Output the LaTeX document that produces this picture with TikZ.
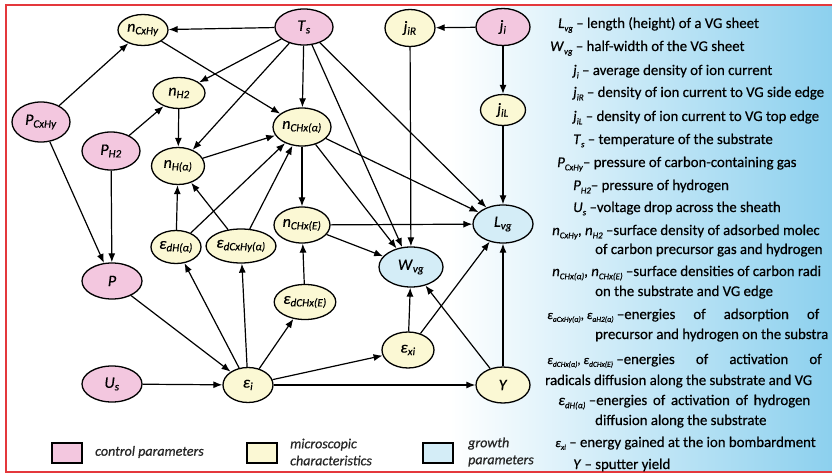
\documentclass[tikz,border=0pt]{standalone}
\usepackage{fontspec}
\setmainfont{Carlito}[FakeBold=0.5]
\usetikzlibrary{arrows.meta,shapes.geometric}

\definecolor{ctrlpink}{RGB}{243,199,223}
\definecolor{micyellow}{RGB}{251,248,212}
\definecolor{growblue}{RGB}{212,237,247}
\definecolor{framered}{RGB}{228,56,60}
\definecolor{bgblue}{RGB}{140,208,238}

\newcommand{\sym}[2]{\textit{#1}\textsubscript{\textit{#2}}}
\newcommand{\lsym}[2]{\textit{#1}\raisebox{-0.22em}{\scalebox{0.6}{\textit{#2}}}}
\newcommand{\smallsyms}[1]{{\fontsize{12.5}{14}\selectfont #1}}

\tikzset{
  var/.style={ellipse, draw, line width=1.3pt, inner sep=0pt, font=\fontsize{16}{18}\selectfont},
  ctrl/.style={var, fill=ctrlpink},
  micro/.style={var, fill=micyellow},
  growth/.style={var, fill=growblue},
  link/.style={-{Latex[length=9pt,width=7pt]}, line width=1.2pt},
  legline/.style={anchor=base west, inner sep=0pt, font=\fontsize{14.8}{17}\selectfont},
  keybox/.style={draw, line width=1.3pt, minimum width=30pt, minimum height=20pt, inner sep=0pt},
  keytext/.style={anchor=west, align=left, inner sep=0pt, text=black!85, font=\itshape\fontsize{14}{17}\selectfont}
}

\begin{document}
\begin{tikzpicture}[x=1pt, y=-1pt]
\useasboundingbox (0,0) rectangle (832,476);
\fill[white] (0,0) rectangle (832,476);
\shade[left color=white, right color=bgblue] (450,5) rectangle (832,472);
\draw[framered, line width=2pt] (832,5) -- (6,5) -- (6,472) -- (832,472);

% control parameters
\node[ctrl, minimum width=58pt, minimum height=40pt] (PCxHy) at (41,122) {\sym{P}{CxHy}};
\node[ctrl, minimum width=58pt, minimum height=38pt] (PH2) at (111,151) {\sym{P}{H2}};
\node[ctrl, minimum width=60pt, minimum height=36pt] (P) at (112,281) {\textit{P}};
\node[ctrl, minimum width=60pt, minimum height=36pt] (Us) at (112,384) {\sym{U}{s}};
\node[ctrl, minimum width=58pt, minimum height=36pt] (Ts) at (304,27) {\sym{T}{s}};
\node[ctrl, minimum width=54pt, minimum height=37pt] (ji) at (503,27) {\sym{j}{i}};

% microscopic characteristics
\node[micro, minimum width=50pt, minimum height=31pt] (nCxHy) at (143,30) {\sym{n}{CxHy}};
\node[micro, minimum width=50pt, minimum height=37pt] (jiR) at (410,28) {\sym{j}{iR}};
\node[micro, minimum width=45pt, minimum height=31pt] (jiL) at (503,110) {\sym{j}{iL}};
\node[micro, minimum width=52pt, minimum height=31pt] (nH2) at (179,93) {\sym{n}{H2}};
\node[micro, minimum width=53pt, minimum height=37pt] (nHa) at (178,166) {\sym{n}{H(α)}};
\node[micro, minimum width=58pt, minimum height=38pt] (nCHa) at (302,127) {\sym{n}{CHx(α)}};
\node[micro, minimum width=56pt, minimum height=36pt] (nCHE) at (302,225) {\sym{n}{CHx(E)}};
\node[micro, minimum width=50pt, minimum height=33pt] (edHa) at (176,247) {\sym{ε}{dH(α)}};
\node[micro, minimum width=57pt, minimum height=34pt] (edCxHya) at (241,246) {\sym{ε}{dCxHy(α)}};
\node[micro, minimum width=50pt, minimum height=35pt] (edCHE) at (305,302) {\sym{ε}{dCHx(E)}};
\node[micro, minimum width=50pt, minimum height=35pt] (ei) at (248,385) {\sym{ε}{i}};
\node[micro, minimum width=52pt, minimum height=36pt] (exi) at (408,350) {\sym{ε}{xi}};
\node[micro, minimum width=54pt, minimum height=36pt] (Y) at (503,385) {\textit{Y}};

% growth parameters
\node[growth, minimum width=60pt, minimum height=38pt] (Lvg) at (503,224) {\sym{L}{vg}};
\node[growth, minimum width=64pt, minimum height=40pt] (Wvg) at (411,267) {\sym{W}{vg}};

\draw[link] (Ts) -- (nCxHy);
\draw[link] (Ts) -- (nH2);
\draw[link] (Ts) -- (nHa);
\draw[link] (Ts) -- (nCHa);
\draw[link] (Ts) -- (Wvg);
\draw[link] (Ts) -- (Lvg);
\draw[link] (ji) -- (jiR);
\draw[link] (ji) -- (jiL);
\draw[link] (jiL) -- (Lvg);
\draw[link] (jiR) -- (Wvg);
\draw[link] (PCxHy) -- (nCxHy);
\draw[link] (PCxHy) -- (P);
\draw[link] (PH2) -- (nH2);
\draw[link] (PH2) -- (P);
\draw[link] (P) -- (ei);
\draw[link] (Us) -- (ei);
\draw[link] (nCxHy) -- (nCHa);
\draw[link] (nH2) -- (nHa);
\draw[link] (nHa) -- (nCHa);
\draw[link] (edHa) -- (nHa);
\draw[link] (edHa) -- (nCHa);
\draw[link] (edCxHya) -- (nHa);
\draw[link] (edCxHya) -- (nCHa);
\draw[link] (nCHa) -- (nCHE);
\draw[link] (nCHa) -- (Wvg);
\draw[link] (nCHa) -- (Lvg);
\draw[link] (nCHE) -- (Lvg);
\draw[link] (nCHE) -- (Wvg);
\draw[link] (edCHE) -- (nCHE);
\draw[link] (ei) -- (edHa);
\draw[link] (ei) -- (edCxHya);
\draw[link] (ei) -- (edCHE);
\draw[link] (ei) -- (exi);
\draw[link] (ei) -- (Y);
\draw[link] (exi) -- (Wvg);
\draw[link] (exi) -- (Lvg);
\draw[link] (Y) -- (Wvg);
\draw[link] (Y) -- (Lvg);

% key
\node[keybox, fill=ctrlpink] (keyctrl) at (67,453) {};
\node[keytext] (keyctrltext) at (95,452) {control parameters};
\node[keybox, fill=micyellow] (keymicro) at (262,453) {};
\node[keytext] (keymicrotext) at (290,452) {microscopic\\characteristics};
\node[keybox, fill=growblue] (keygrowth) at (438,453) {};
\node[keytext] (keygrowthtext) at (468,452) {growth\\parameters};

% notation
\node[legline] (t1) at (558,28) {\lsym{L}{vg} – length (height) of a VG sheet};
\node[legline] (t2) at (550,51) {\lsym{W}{vg} – half-width of the VG sheet};
\node[legline] (t3) at (573,75) {\lsym{j}{i} – average density of ion current};
\node[legline] (t4) at (573,97) {\lsym{j}{iR} – density of ion current to VG side edge};
\node[legline] (t5) at (573,121) {\lsym{j}{iL} – density of ion current to VG top edge};
\node[legline] (t6) at (573,144) {\lsym{T}{s} – temperature of the substrate};
\node[legline] (t7) at (557,167) {\lsym{P}{CxHy}– pressure of carbon-containing gas};
\node[legline] (t8) at (573,190) {\lsym{P}{H2}– pressure of hydrogen};
\node[legline] (t9) at (573,212) {\lsym{U}{s} –voltage drop across the sheath};
\node[legline] (t10) at (552,235) {\lsym{n}{CxHy}, \lsym{n}{H2} –surface density of adsorbed molec};
\node[legline] (t11) at (595,254) {of carbon precursor gas and hydrogen};
\node[legline] (t12) at (552,276) {\lsym{n}{CHx(α)}, \lsym{n}{CHx(E)} –surface densities of carbon radi};
\node[legline] (t13) at (595,296) {on the substrate and VG edge};
\node[legline] (t14) at (547,319) {\smallsyms{\lsym{ε}{aCxHy(α)}, \lsym{ε}{aH2(α)}} –\makebox[195pt][s]{energies of adsorption of}};
\node[legline] (t15) at (595,339) {precursor and hydrogen on the substra};
\node[legline] (t16) at (547,364) {\smallsyms{\lsym{ε}{dCHx(α)}, \lsym{ε}{dCHx(E)}} –\makebox[198pt][s]{energies of activation of}};
\node[legline] (t17) at (545,385) {radicals diffusion along the substrate and VG};
\node[legline] (t18) at (558,405) {\lsym{ε}{dH(α)} –\makebox[214pt][s]{energies of activation of hydrogen}};
\node[legline] (t19) at (595,425) {diffusion along the substrate};
\node[legline] (t20) at (555,447) {\smallsyms{\lsym{ε}{xi}} – energy gained at the ion bombardment};
\node[legline] (t21) at (573,469) {\textit{Y} – sputter yield};
\end{tikzpicture}
\end{document}
